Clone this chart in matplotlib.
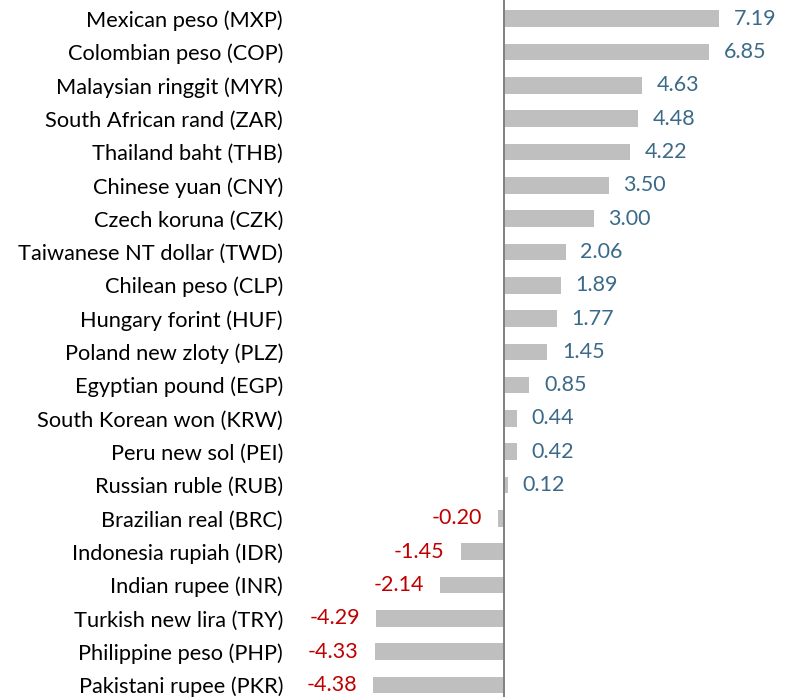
import matplotlib
matplotlib.use("Agg")
import matplotlib.pyplot as plt

currencies = [
    "Mexican peso (MXP)", "Colombian peso (COP)", "Malaysian ringgit (MYR)",
    "South African rand (ZAR)", "Thailand baht (THB)", "Chinese yuan (CNY)",
    "Czech koruna (CZK)", "Taiwanese NT dollar (TWD)", "Chilean peso (CLP)",
    "Hungary forint (HUF)", "Poland new zloty (PLZ)", "Egyptian pound (EGP)",
    "South Korean won (KRW)", "Peru new sol (PEI)", "Russian ruble (RUB)",
    "Brazilian real (BRC)", "Indonesia rupiah (IDR)", "Indian rupee (INR)",
    "Turkish new lira (TRY)", "Philippine peso (PHP)", "Pakistani rupee (PKR)",
]
changes = [7.19, 6.85, 4.63, 4.48, 4.22, 3.50, 3.00, 2.06, 1.89, 1.77, 1.45,
           0.85, 0.44, 0.42, 0.12, -0.20, -1.45, -2.14, -4.29, -4.33, -4.38]

plt.rcParams['font.family'] = ['Lato', 'DejaVu Sans']

fig = plt.figure(figsize=(7.96, 6.97), dpi=100)
ax = fig.add_axes([290 / 796, 0, 1 - 290 / 796, 1])

pos = list(range(len(currencies)))
ax.barh(pos, changes, height=0.5, color='#bfbfbf', zorder=2)
ax.axvline(0, color='#808080', lw=1.4, zorder=3)

for y, v in zip(pos, changes):
    if v >= 0:
        ax.annotate(f"{v:.2f}", (v, y), xytext=(10.5, 0), textcoords='offset points',
                    ha='left', va='center', fontsize=15.5, color='#3b6a88')
    else:
        ax.annotate(f"{v:.2f}", (v, y), xytext=(-11.5, 0), textcoords='offset points',
                    ha='right', va='center', fontsize=15.5, color='#c00000')

ax.set_yticks(pos)
ax.set_yticklabels(currencies, fontsize=15.7, color='black')
ax.tick_params(axis='y', length=0, pad=5)
ax.set_xticks([])
ax.set_xlim((290 - 504) / 29.9, (796 - 504) / 29.9)
ax.set_ylim(20.36, -0.56)
for s in ax.spines.values():
    s.set_visible(False)

fig.savefig("out.png", dpi=100)
